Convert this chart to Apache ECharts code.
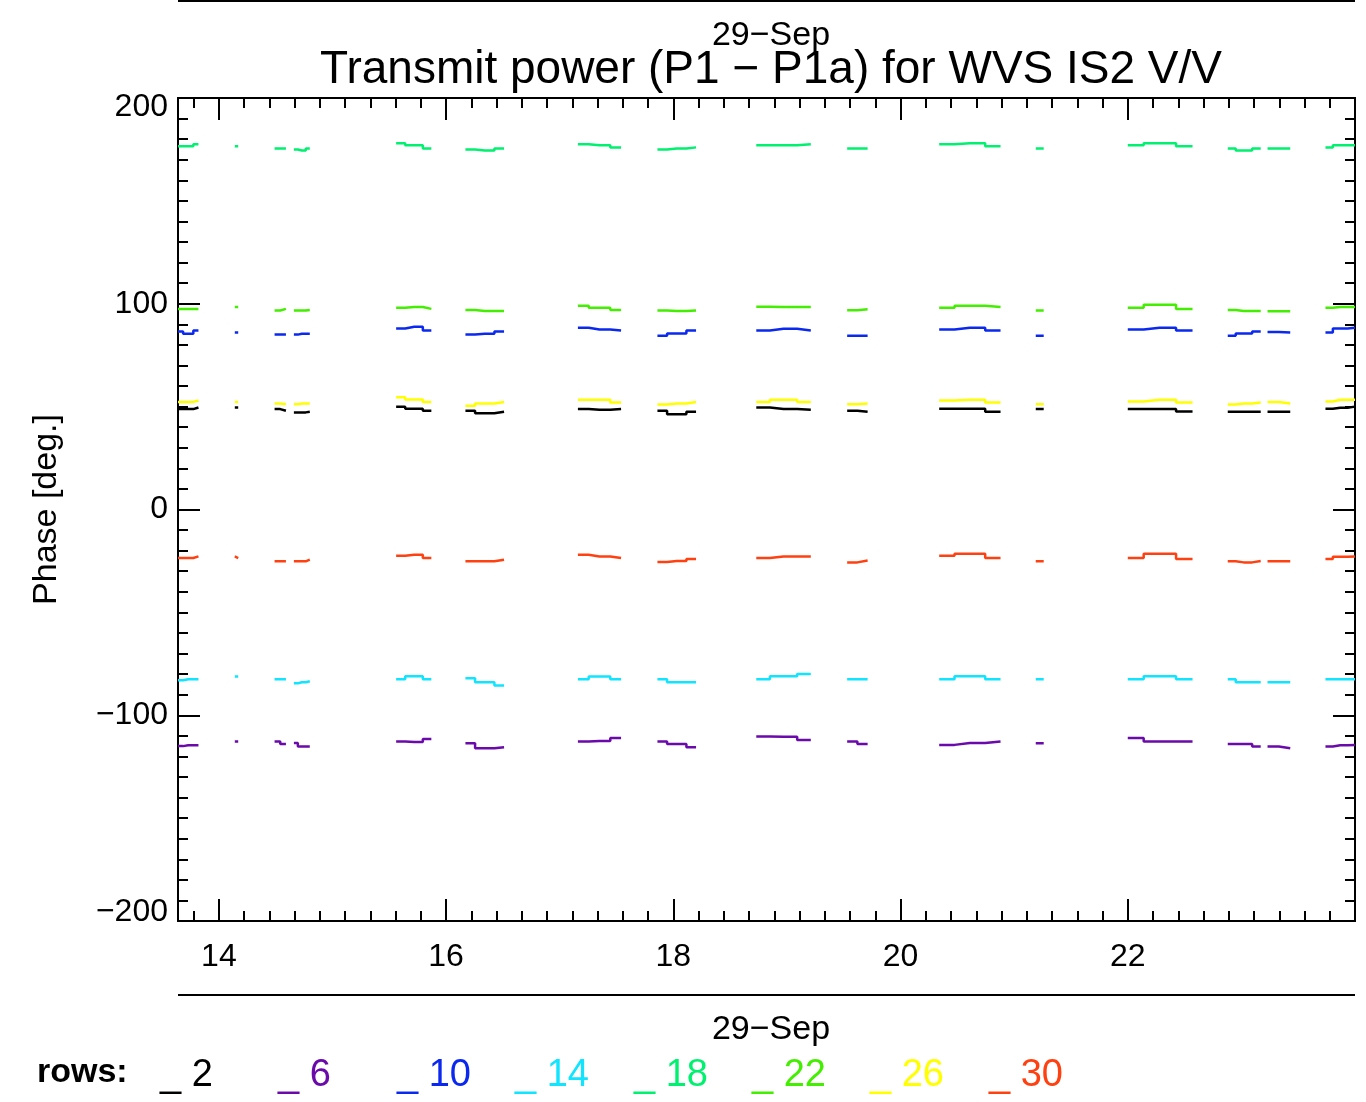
<!DOCTYPE html>
<html>
<head>
<meta charset="utf-8">
<title>Transmit power (P1 - P1a) for WVS IS2 V/V</title>
<script src="https://cdn.jsdelivr.net/npm/echarts@6/dist/echarts.min.js"></script>
<style>
  html, body { margin: 0; padding: 0; background: #fff; }
  #chart { width: 1366px; height: 1102px; }
</style>
</head>
<body>
<div id="chart"></div>
<script>
// time of day (hours, 29-Sep), one sub-array per data pass
const hours = [
  [13.64, 13.73, 13.82], [14.14, 14.17], [14.49, 14.59], [14.66, 14.73, 14.80],
  [15.56, 15.72, 15.87], [16.17, 16.34, 16.51], [17.16, 17.35, 17.54], [17.86, 18.03, 18.20],
  [18.73, 18.97, 19.21], [19.53, 19.71], [20.34, 20.61, 20.88], [21.19, 21.26],
  [22.00, 22.28, 22.57], [22.88, 23.02, 23.17], [23.23, 23.43], [23.74, 23.87, 24.00]
];

// phase in degrees per row, same layout as hours
const row2 = [
  [48.8, 48.8, 49.6], [49.6, 49.6], [48.8, 48], [47.2, 47.2, 47.5],
  [50, 49, 48], [48, 46.8, 47.5], [48.8, 48.5, 48.8], [48, 46.3, 47.5],
  [49.6, 48.8, 48.5], [48, 47.5], [49, 49, 47.5], [48.8, 48.8],
  [48.8, 48.8, 47.6], [47.5, 47.5, 47.5], [47.5, 47.5], [49, 49.5, 50]
];
const row6 = [
  [-115, -114.6, -114.6], [-112.8, -112.8], [-112.8, -114], [-113.5, -115.2, -115.2],
  [-112.8, -113, -111.6], [-113.6, -116, -115.5], [-112.8, -112.5, -111], [-112.8, -114, -115.5],
  [-110.3, -110.5, -112], [-112.8, -114], [-114.4, -113.5, -112.8], [-113.6, -113.6],
  [-111, -112.8, -112.8], [-114, -114, -115.2], [-115.2, -116], [-115.2, -114.6, -114.4]
];
const row10 = [
  [86.5, 85.4, 87], [86, 86], [85, 85], [85, 85.4, 85.4],
  [88, 88.8, 87], [85, 85.4, 86.5], [88.3, 87.5, 87], [84.5, 85.5, 87],
  [87, 87.8, 87], [84.5, 84.5], [87.5, 88.3, 87], [84.5, 84.5],
  [87.5, 88.3, 87], [84.5, 85.5, 86.5], [86.3, 86], [86, 88, 88.3]
];
const row14 = [
  [-83, -82.5, -82.5], [-81.2, -81.2], [-82.5, -82.5], [-84.5, -84, -83.5],
  [-82.5, -81, -82.5], [-82, -84, -85.5], [-82.5, -81.2, -82.5], [-82.5, -84, -84],
  [-82.5, -81, -80], [-82.5, -82.5], [-82.5, -81, -82.5], [-82.5, -82.5],
  [-82.5, -81, -82.5], [-82.5, -84, -84], [-84, -84], [-82.5, -82.5, -82.5]
];
const row18 = [
  [176.5, 176.5, 177.5], [176.5, 176.5], [175.5, 175.5], [175, 174.5, 175.5],
  [178, 177, 175.5], [175, 174.5, 175.5], [177.5, 177, 176], [175, 175.5, 176],
  [177, 177, 177.5], [175.5, 175.5], [177.5, 178, 176.5], [175.5, 175.5],
  [177, 178, 176.5], [175.5, 174.5, 175.5], [175.5, 175.5], [176, 177, 177]
];
const row22 = [
  [97.5, 97.5, 97.5], [98.4, 98.4], [96.7, 97.5], [96.7, 96.7, 97],
  [98, 98.4, 97.5], [97, 96.5, 96.5], [99, 98, 97], [96.7, 96.5, 96.7],
  [98.5, 98.4, 98.4], [96.8, 97.3], [98, 99, 98.4], [96.7, 96.7],
  [98, 99.5, 97.5], [97, 96.5, 96.5], [96.3, 96.3], [98, 98.4, 98.4]
];
const row26 = [
  [52.3, 52.3, 53], [52.3, 52.3], [51.5, 51.2], [51.2, 51.5, 51.5],
  [54.6, 53.5, 52.2], [50.4, 51.5, 52.3], [53.3, 53.3, 52], [51, 51.5, 52.3],
  [52.3, 53.3, 52.3], [51.2, 51.5], [53, 53.3, 52], [51.2, 51.2],
  [52.5, 53.3, 52], [51, 51.5, 52], [52.3, 51.5], [52.5, 53.3, 53.3]
];
const row30 = [
  [-23.6, -23.6, -22.8], [-22.8, -23.6], [-25.2, -25.2], [-25.2, -25.2, -24.4],
  [-22.5, -22, -23.6], [-25.2, -25.2, -24.4], [-22, -22.8, -23.6], [-25.5, -25, -24],
  [-23.6, -22.8, -22.8], [-25.7, -24.8], [-22.5, -21.5, -23.6], [-25.2, -25.2],
  [-23.6, -21.5, -24], [-25.2, -25.7, -25], [-25.2, -25.2], [-24, -23, -22.8]
];

const rowNames = ['2', '6', '10', '14', '18', '22', '26', '30'];
const rowValues = [row2, row6, row10, row14, row18, row22, row26, row30];
const rowColors = ['#000000', '#6a0aaa', '#0a28f0', '#10e4ff', '#00f070', '#44ee00', '#ffff00', '#ff4010'];

// tick labels
const xMajorTicks = [14, 16, 18, 20, 22];
const yTicks = [-200, -100, 0, 100, 200];

const xMin = 13.64;
const xMax = 24.0;
const font = "'Liberation Sans', sans-serif";

// minor ticks split each 2 h interval in 9 parts (as IDL did)
const xMinorTicks = [];
for (let t = xMajorTicks[0] - 2; t <= xMax + 0.001; t += 2) {
  for (let k = 1; k < 9; k++) {
    const v = +(t + k * 2 / 9).toFixed(4);
    if (v > xMin && v < xMax) xMinorTicks.push(v);
  }
}

// flatten passes into [x, y] pairs; two empty points at the pass ends break
// the line without letting the step stretch into the gap
function buildData(values) {
  const out = [];
  hours.forEach((seg, i) => {
    seg.forEach((h, j) => out.push([h, values[i][j]]));
    if (i < hours.length - 1) {
      out.push([seg[seg.length - 1], null]);
      out.push([hours[i + 1][0], null]);
    }
  });
  return out;
}

// IDL minus sign, end labels nudged inwards a little
function yLabel(v) {
  const s = String(v).replace('-', '\u2212');
  if (v === 200) return '{top|' + s + '}';
  if (v === -200) return '{bot|' + s + '}';
  return s;
}

function xAxisCfg(position, ticks, len, labels) {
  return {
    type: 'value',
    position,
    min: xMin,
    max: xMax,
    axisLine: { show: true, onZero: false, lineStyle: { color: '#000', width: 2 } },
    axisTick: { show: true, inside: true, length: len, customValues: ticks, lineStyle: { color: '#000', width: 2 } },
    axisLabel: labels ? {
      show: true, customValues: ticks, color: '#000', fontFamily: font, fontSize: 32, margin: 20
    } : { show: false },
    splitLine: { show: false }
  };
}

function yAxisCfg(position, labels) {
  return {
    type: 'value',
    position,
    min: -200,
    max: 200,
    interval: 100,
    name: labels ? 'Phase [deg.]' : '',
    nameLocation: 'middle',
    nameGap: 114,
    nameRotate: 90,
    nameTextStyle: { color: '#000', fontFamily: font, fontSize: 34 },
    axisLine: { show: true, onZero: false, lineStyle: { color: '#000', width: 2 } },
    axisTick: { show: true, inside: true, length: 22, lineStyle: { color: '#000', width: 2 } },
    minorTick: { show: true, splitNumber: 10, length: 10, lineStyle: { color: '#000', width: 2 } },
    axisLabel: labels ? {
      show: true, color: '#000', fontFamily: font, fontSize: 32, margin: 10,
      customValues: yTicks,
      formatter: yLabel,
      rich: {
        top: { fontFamily: font, fontSize: 32, color: '#000', padding: [18, 0, 0, 0] },
        bot: { fontFamily: font, fontSize: 32, color: '#000', padding: [0, 0, 18, 0] }
      }
    } : { show: false },
    splitLine: { show: false },
    minorSplitLine: { show: false }
  };
}

const chart = echarts.init(document.getElementById('chart'));

const series = rowNames.map((name, i) => ({
  name,
  type: 'line',
  xAxisIndex: 0,
  yAxisIndex: 0,
  step: 'middle',
  showSymbol: false,
  connectNulls: false,
  animation: false,
  lineStyle: { color: rowColors[i], width: 2.5 },
  itemStyle: { color: rowColors[i] },
  data: buildData(rowValues[i])
}));

// one legend per row so the entries sit on a regular pitch like the original
const legends = rowNames.map((name, i) => ({
  left: 150 + Math.round(i * 118.4),
  top: 1052,
  itemWidth: 0,
  itemHeight: 0,
  selectedMode: false,
  formatter: n => '_ ' + n,
  textStyle: { fontFamily: font, fontSize: 38, color: rowColors[i] },
  data: [{ name, icon: 'rect' }]
}));

chart.setOption({
  backgroundColor: '#fff',
  animation: false,
  title: [
    { text: '29\u2212Sep', left: 766, top: 14, textAlign: 'center',
      textStyle: { color: '#000', fontFamily: font, fontSize: 34, fontWeight: 'normal' } },
    { text: 'Transmit power (P1 \u2212 P1a) for WVS IS2 V/V', left: 766, top: 42, textAlign: 'center',
      textStyle: { color: '#000', fontFamily: font, fontSize: 46, fontWeight: 'normal' } },
    { text: '29\u2212Sep', left: 766, top: 1008, textAlign: 'center',
      textStyle: { color: '#000', fontFamily: font, fontSize: 34, fontWeight: 'normal' } }
  ],
  legend: legends,
  graphic: [
    { type: 'line', shape: { x1: 178, y1: 1, x2: 1355, y2: 1 }, style: { stroke: '#000', lineWidth: 2 } },
    { type: 'line', shape: { x1: 178, y1: 995, x2: 1355, y2: 995 }, style: { stroke: '#000', lineWidth: 2 } },
    { type: 'text', left: 37, top: 1056,
      style: { text: 'rows:', fill: '#000', font: "bold 34px 'Liberation Sans', sans-serif" } }
  ],
  grid: { left: 178, right: 11, top: 98, bottom: 181, containLabel: false },
  xAxis: [
    xAxisCfg('bottom', xMajorTicks, 22, true),
    xAxisCfg('bottom', xMinorTicks, 10, false),
    xAxisCfg('top', xMajorTicks, 22, false),
    xAxisCfg('top', xMinorTicks, 10, false)
  ],
  yAxis: [yAxisCfg('left', true), yAxisCfg('right', false)],
  series
});
</script>
</body>
</html>
